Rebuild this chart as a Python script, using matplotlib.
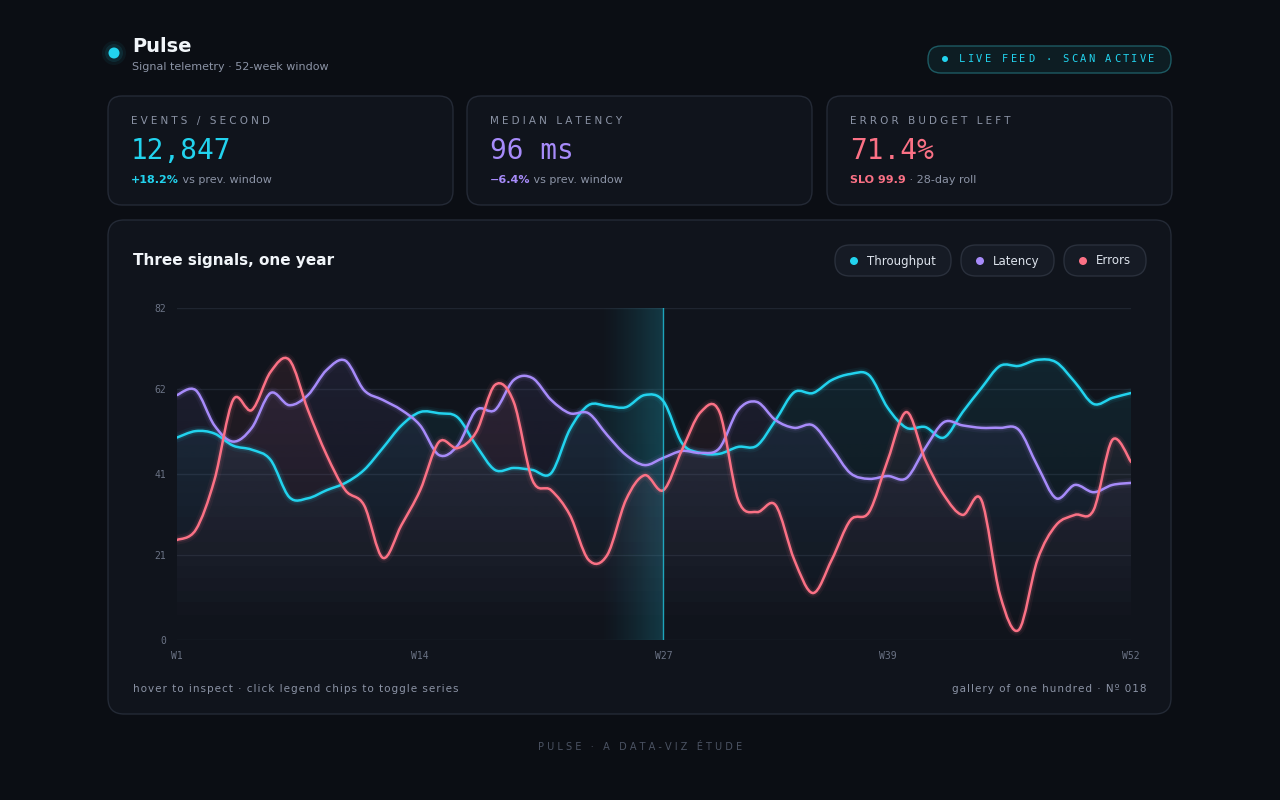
import matplotlib
matplotlib.use("Agg")
import matplotlib.pyplot as plt
import numpy as np
from matplotlib.patches import FancyBboxPatch, Ellipse, PathPatch
from matplotlib.path import Path
from matplotlib.colors import LinearSegmentedColormap

weeks = list(range(1, 53))
throughput = [50,51.6,51,48,47,44.5,35.3,35,37,38.8,42,47.4,53,56.3,56,55,48,42,42.5,42,41.2,52,58,57.8,57.5,60.5,
              59,48.6,46.2,46,47.7,48,54.3,61.2,61,64.2,65.7,65.4,57.3,52.4,52.6,50,56.3,62.2,67.7,67.7,69.2,68.6,63.7,58.3,59.8,61]
latency = [60.5,61.7,53,49,52.4,61,58,60.5,66.7,69,61.7,59.3,56.8,53,45.7,48,56.8,56.8,64.2,64.7,59.3,56,56,50.6,45.7,43.2,
           45,46.7,46.2,47.4,56.8,58.8,54.3,52.4,53,47.4,41.2,39.8,40.5,40,47.4,53.8,53,52.4,52.4,51.9,43,35,38.3,36.5,38.3,38.8]
errors = [24.7,27.2,39.5,59.3,56.8,66.2,69.2,56.8,45.7,37,33.3,20.3,28.4,37,48.9,47.4,51.4,63,58.8,39.5,37,30.9,19.8,21,34.6,40.7,
          37,47,56.3,56.3,34.6,31.6,33.3,19.8,11.6,19.8,29.6,31.6,44.5,56.3,44.5,35.8,30.9,34.6,11.1,2.5,19.8,28.4,30.9,32.1,49.4,44]
series_names = ["Throughput", "Latency", "Errors"]
colors = ["#22d3ee", "#a78bfa", "#fb7185"]
yticks = [0, 21, 41, 62, 82]
xtick_weeks = [1, 14, 27, 39, 52]
xtick_labels = ["W1", "W14", "W27", "W39", "W52"]

W, H = 1280, 800
BG = "#0b0e14"
CARD = "#10141c"
EDGE = "#242a36"
fig = plt.figure(figsize=(12.8, 8), dpi=100, facecolor=BG)

def fx(x): return x / W
def fy(y): return 1 - y / H

def spaced(s, sep="\u2009"):
    return sep.join(list(s))

def rbox(x0, y0, x1, y1, r, fc, ec, z=-5):
    p = FancyBboxPatch((fx(x0), fy(y1)), fx(x1 - x0), (y1 - y0) / H,
                       boxstyle=f"round,pad=0,rounding_size={r/W}", transform=fig.transFigure,
                       facecolor=fc, edgecolor=ec, linewidth=1, zorder=z)
    p.set_mutation_aspect(W / H)
    fig.patches.append(p)

def dot(x, y, r, c, a=1.0, z=2):
    fig.patches.append(Ellipse((fx(x), fy(y)), 2 * r / W, 2 * r / H, transform=fig.transFigure,
                               color=c, alpha=a, zorder=z, lw=0))

def txt(x, y, s, **kw):
    return fig.text(fx(x), fy(y), s, **kw)

# header
for rad, a in [(12, 0.06), (9, 0.1)]:
    dot(114, 53, rad, "#22d3ee", a, 1)
dot(114, 53, 5.5, "#22d3ee")
txt(132, 46, "Pulse", fontsize=14, fontweight="bold", color="#f1f5f9", va="center")
txt(132, 67, "Signal telemetry · 52-week window", fontsize=8, color="#8b93a5", va="center")
rbox(928, 46, 1171, 73, 13, "#0d1d23", "#1d5a63", z=1)
dot(945, 59, 3, "#22d3ee", z=3)
live = "LIVE FEED · SCAN ACTIVE"
for i, ch in enumerate(live):
    txt(959 + i * 8.6, 59.5, ch, fontsize=7.5, color="#22d3ee", va="center", family="DejaVu Sans Mono")

# KPI cards
kpis = [(108, "EVENTS / SECOND", "12,847", "+18.2%", " vs prev. window", colors[0]),
        (467, "MEDIAN LATENCY", "96 ms", "\u22126.4%", " vs prev. window", colors[1]),
        (827, "ERROR BUDGET LEFT", "71.4%", "SLO 99.9", " · 28-day roll", colors[2])]
fig.canvas.draw()
for x0, lab, val, d, rest, c in kpis:
    rbox(x0, 96, x0 + 345, 205, 14, CARD, EDGE)
    txt(x0 + 23, 121, spaced(lab, "\u2009\u200a"), fontsize=7.5, color="#8b93a5", va="center")
    txt(x0 + 23, 151, val, fontsize=20, color=c, va="center", family="DejaVu Sans Mono")
    t = txt(x0 + 23, 180, d, fontsize=8, color=c, fontweight="bold", va="center")
    bb = t.get_window_extent(renderer=fig.canvas.get_renderer())
    fig.text(bb.x1 / W, fy(180), rest, fontsize=8, color="#8b93a5", va="center")

# main card
rbox(108, 220, 1171, 714, 16, CARD, EDGE)
txt(133, 261, "Three signals, one year", fontsize=11, fontweight="bold", color="#f1f5f9", va="center")
chips = [(835, 951), (961, 1054), (1064, 1146)]
for (a, b), n, c in zip(chips, series_names, colors):
    rbox(a, 245, b, 276, 15, "#161b25", "#2a303c", z=1)
    dot(a + 19, 261, 4, c, z=3)
    txt(a + 32, 261, n, fontsize=8.5, color="#dde3ec", va="center")
txt(133, 689, spaced("hover to inspect · click legend chips to toggle series", "\u200a"), fontsize=7.5,
    color="#8b93a5", va="center")
txt(1146, 689, spaced("gallery of one hundred · Nº 018", "\u200a"), fontsize=7.5, color="#8b93a5",
    va="center", ha="right")
txt(640, 747, spaced("PULSE · A DATA-VIZ ÉTUDE", " "), fontsize=7, color="#4b5363", va="center", ha="center")

# chart axes
ax = fig.add_axes([fx(177), fy(640), fx(1131 - 177), (640 - 308) / H])
ax.set_zorder(2)
ax.set_facecolor("none")
ax.set_xlim(1, 52)
ax.set_ylim(0, 82)
for s in ax.spines.values():
    s.set_visible(False)
for v in yticks:
    ax.axhline(v, color="#1f2530", lw=1, zorder=0)
ax.set_yticks(yticks)
ax.set_yticklabels([str(v) for v in yticks])
ax.set_xticks(xtick_weeks)
ax.set_xticklabels(xtick_labels)
ax.tick_params(length=0, colors="#6b7385", labelsize=7, pad=8)
for l in ax.get_yticklabels() + ax.get_xticklabels():
    l.set_family("DejaVu Sans Mono")

# hover band
grad = np.linspace(0, 1, 100).reshape(1, -1) ** 1.3
cm = LinearSegmentedColormap.from_list("b", [(0.13, 0.83, 0.93, 0.0), (0.13, 0.83, 0.93, 0.2)])
ax.imshow(grad, extent=[23.5, 27, 0, 82], aspect="auto", cmap=cm, zorder=1, interpolation="bilinear")
ax.axvline(27, color="#22d3ee", lw=1, alpha=0.7, zorder=5)

def smooth_path(xs, ys, closed_bottom=False):
    xs = np.asarray(xs, float); ys = np.asarray(ys, float)
    verts = [(xs[0], ys[0])]; codes = [Path.MOVETO]
    n = len(xs)
    for i in range(n - 1):
        x0, y0 = xs[i], ys[i]; x1, y1 = xs[i + 1], ys[i + 1]
        xp, yp = (xs[i - 1], ys[i - 1]) if i > 0 else (x0, y0)
        xn, yn = (xs[i + 2], ys[i + 2]) if i + 2 < n else (x1, y1)
        t = 1 / 6
        verts += [(x0 + (x1 - xp) * t, y0 + (y1 - yp) * t), (x1 - (xn - x0) * t, y1 - (yn - y0) * t), (x1, y1)]
        codes += [Path.CURVE4] * 3
    if closed_bottom:
        verts += [(xs[-1], 0), (xs[0], 0), (xs[0], ys[0])]
        codes += [Path.LINETO, Path.LINETO, Path.CLOSEPOLY]
    return Path(verts, codes)

# vertical fade gradient for area fills
vgrad = np.linspace(0, 1, 200).reshape(-1, 1)
for data, c in zip([throughput, latency, errors], colors):
    rgb = matplotlib.colors.to_rgb(c)
    cmap = LinearSegmentedColormap.from_list("f", [(*rgb, 0.0), (*rgb, 0.09)])
    im = ax.imshow(vgrad, extent=[1, 52, 0, max(data)], origin="lower", aspect="auto", cmap=cmap,
                   zorder=2, interpolation="bilinear")
    clip = PathPatch(smooth_path(weeks, data, True), transform=ax.transData, facecolor="none", edgecolor="none")
    ax.add_patch(clip)
    im.set_clip_path(clip)
for data, c in zip([throughput, latency, errors], colors):
    p = smooth_path(weeks, data)
    for lw, a in [(7, 0.06), (4, 0.12)]:
        ax.add_patch(PathPatch(p, facecolor="none", edgecolor=c, lw=lw, alpha=a, zorder=3, capstyle="round"))
    ax.add_patch(PathPatch(p, facecolor="none", edgecolor=c, lw=1.8, zorder=4, capstyle="round"))
ax.set_xlim(1, 52)
ax.set_ylim(0, 82)

fig.savefig("out.png", dpi=100, facecolor=BG)
